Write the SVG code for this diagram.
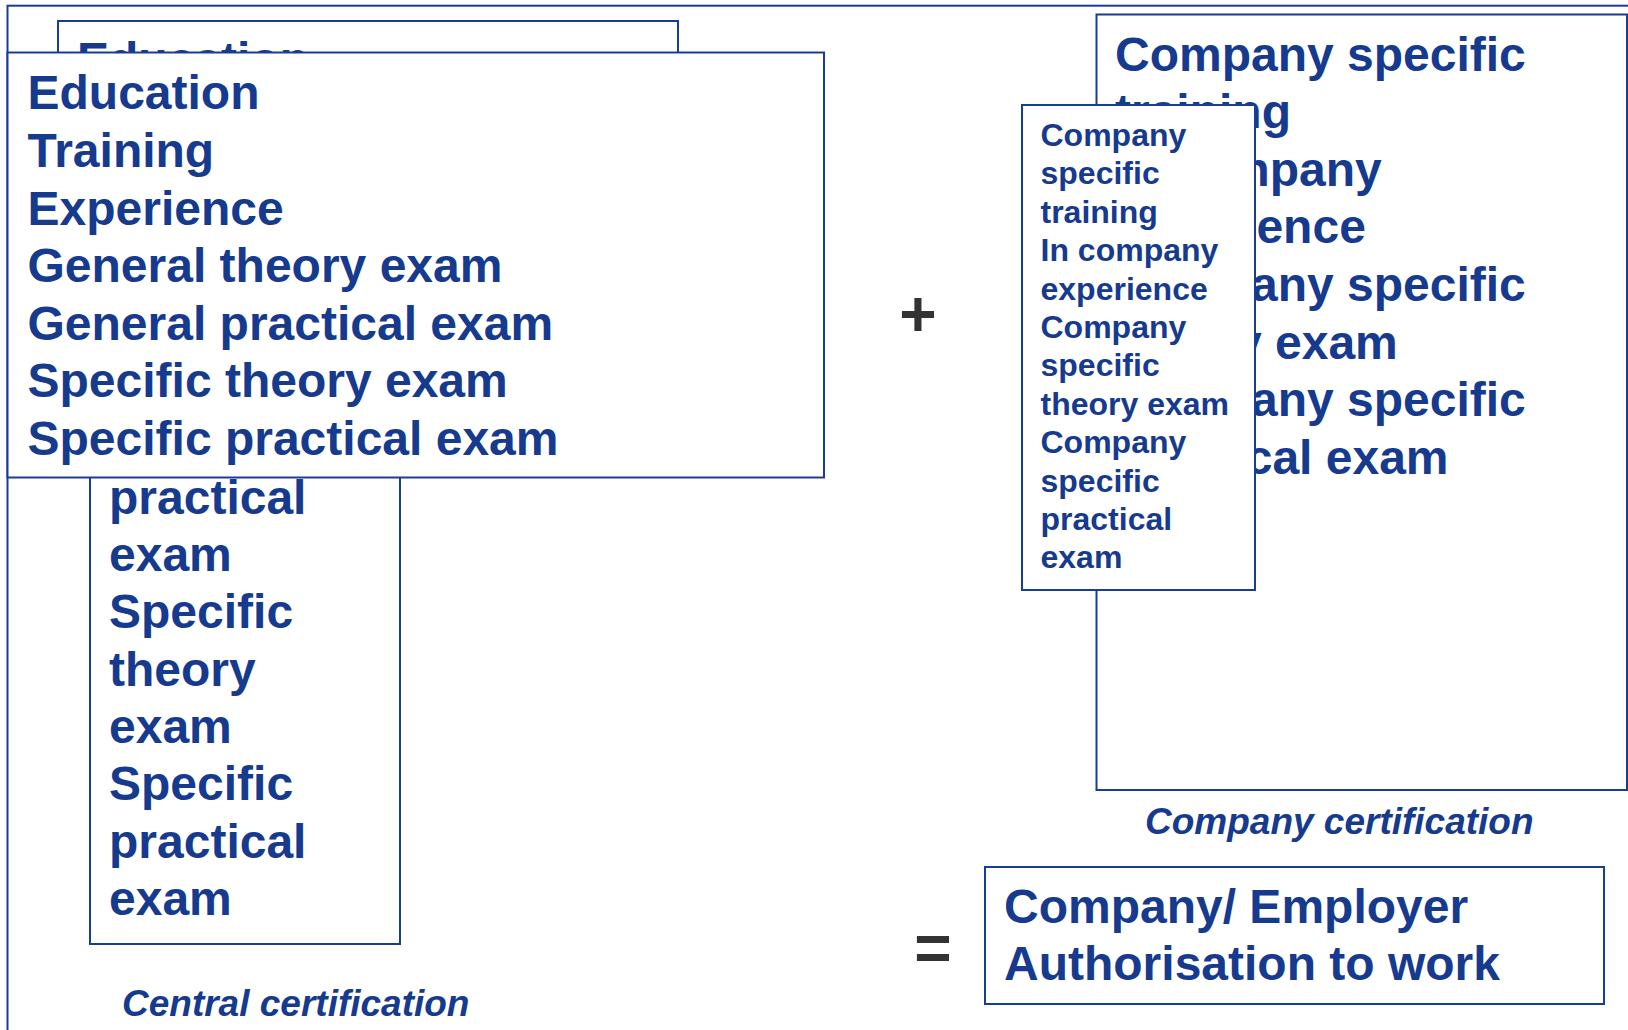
<svg xmlns="http://www.w3.org/2000/svg" width="1628" height="1030" viewBox="0 0 1628 1030">
<style>
.box{fill:#fff;stroke:#1a3d94;stroke-width:2}
.frame{fill:none;stroke:#1a3d94;stroke-width:2}
.t{font-family:"Liberation Sans",Arial,sans-serif;font-weight:bold;fill:#163a8e}
.b48{font-size:48px}
.b32{font-size:32px}
.cap{font-size:37px;font-style:italic}
.sym{font-family:"Liberation Sans",Arial,sans-serif;font-weight:bold;fill:#333;font-size:64px;text-anchor:middle}
</style>
<rect width="1628" height="1030" fill="#fff"/>
<g id="outer-frame"><rect class="frame" x="7.5" y="5.7" width="1700" height="1100"/></g>
<g id="central-back">
<rect class="box" x="58" y="21" width="620" height="200"/>
<text class="t b48" x="77" y="76">Education</text>
</g>
<g id="central-narrow">
<rect class="box" x="90" y="300" width="310" height="644"/>
<text class="t b48">
<tspan x="109" y="513.8">practical</tspan>
<tspan x="109" y="571.1">exam</tspan>
<tspan x="109" y="628.4">Specific</tspan>
<tspan x="109" y="685.7">theory</tspan>
<tspan x="109" y="743">exam</tspan>
<tspan x="109" y="800.3">Specific</tspan>
<tspan x="109" y="857.6">practical</tspan>
<tspan x="109" y="914.9">exam</tspan>
</text>
</g>
<g id="central-front">
<rect class="box" x="7.5" y="52.5" width="816.5" height="425"/>
<text class="t b48">
<tspan x="27.5" y="109.3">Education</tspan>
<tspan x="27.5" y="166.9">Training</tspan>
<tspan x="27.5" y="224.5">Experience</tspan>
<tspan x="27.5" y="282.1">General theory exam</tspan>
<tspan x="27.5" y="339.7">General practical exam</tspan>
<tspan x="27.5" y="397.3">Specific theory exam</tspan>
<tspan x="27.5" y="454.9">Specific practical exam</tspan>
</text>
</g>
<g id="central-label"><text class="t cap" x="122" y="1015.5">Central certification</text></g>
<g id="plus"><text class="sym" x="918" y="336">+</text></g>
<g id="company-back">
<rect class="box" x="1096.5" y="14.5" width="530.5" height="775.5"/>
<text class="t b48">
<tspan x="1115" y="70.5">Company specific</tspan>
<tspan x="1115" y="128.1">training</tspan>
<tspan x="1115" y="185.7">In company</tspan>
<tspan x="1115" y="243.3">experience</tspan>
<tspan x="1115" y="300.9">Company specific</tspan>
<tspan x="1115" y="358.5">theory exam</tspan>
<tspan x="1115" y="416.1">Company specific</tspan>
<tspan x="1115" y="473.7">practical exam</tspan>
</text>
</g>
<g id="company-front">
<rect class="box" x="1022" y="105" width="233" height="485"/>
<text class="t b32">
<tspan x="1040.5" y="146">Company</tspan>
<tspan x="1040.5" y="184.4">specific</tspan>
<tspan x="1040.5" y="222.8">training</tspan>
<tspan x="1040.5" y="261.2">In company</tspan>
<tspan x="1040.5" y="299.6">experience</tspan>
<tspan x="1040.5" y="338">Company</tspan>
<tspan x="1040.5" y="376.4">specific</tspan>
<tspan x="1040.5" y="414.8">theory exam</tspan>
<tspan x="1040.5" y="453.2">Company</tspan>
<tspan x="1040.5" y="491.6">specific</tspan>
<tspan x="1040.5" y="530">practical</tspan>
<tspan x="1040.5" y="568.4">exam</tspan>
</text>
</g>
<g id="company-label"><text class="t cap" x="1145" y="834">Company certification</text></g>
<g id="equals"><text class="sym" x="933" y="970">=</text></g>
<g id="authorisation">
<rect class="box" x="985" y="867" width="619" height="137"/>
<text class="t b48">
<tspan x="1004" y="922.5">Company/ Employer</tspan>
<tspan x="1004" y="980.3">Authorisation to work</tspan>
</text>
</g>
<g id="connectors"></g>
</svg>
